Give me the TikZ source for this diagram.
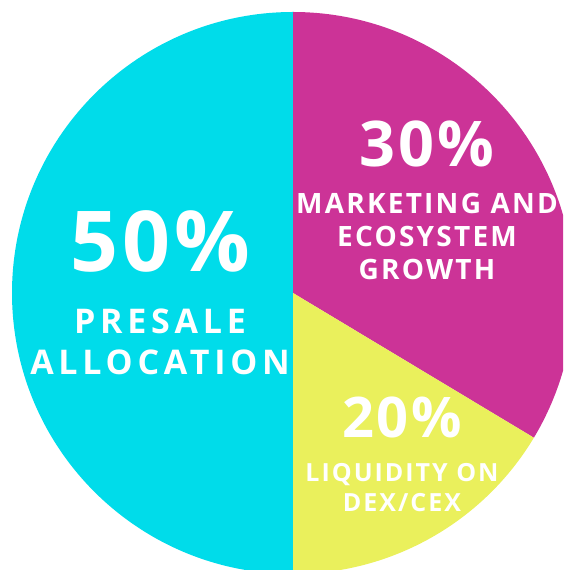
\documentclass[tikz,border=0pt]{standalone}
\usepackage{fontspec}
\usepackage{tikz}
\usetikzlibrary{positioning}
\newfontfamily\piefont{Open Sans}[LetterSpace=5]
\newfontfamily\capfont{Open Sans}[LetterSpace=8]
\newfontfamily\widecapfont{Open Sans}[LetterSpace=14]
\definecolor{presaleCyan}{HTML}{00DCEA}
\definecolor{marketingPink}{HTML}{CC3397}
\definecolor{liquidityYellow}{HTML}{EAF05C}
\tikzset{%
  % Specifications for style of slices and labels:
           slice/.style = {draw=none},
    presaleSlice/.style = {slice, fill=presaleCyan},
  marketingSlice/.style = {slice, fill=marketingPink},
  liquiditySlice/.style = {slice, fill=liquidityYellow},
            base/.style = {text=white, inner sep=0pt, align=center},
      percentBig/.style = {base, font=\piefont\bfseries\fontsize{84}{84}\selectfont},
      percentMid/.style = {base, font=\piefont\bfseries\fontsize{63}{63}\selectfont},
    percentSmall/.style = {base, font=\piefont\bfseries\fontsize{56}{56}\selectfont},
      captionBig/.style = {base, font=\widecapfont\bfseries\fontsize{34}{41}\selectfont},
      captionMid/.style = {base, font=\capfont\bfseries\fontsize{28}{33}\selectfont},
    captionSmall/.style = {base, font=\capfont\bfseries\fontsize{25}{30}\selectfont},
}
\begin{document}
\begin{tikzpicture}[x=1pt, y=1pt]
\useasboundingbox (0,0) rectangle (563,570);
\clip (0,0) rectangle (563,570);

\coordinate (Center) at (293,277);

\fill[presaleSlice]   (Center) -- ++(90:281) arc[start angle=90, end angle=270, radius=281] -- cycle;
\fill[marketingSlice] (Center) -- ++(90:281) arc[start angle=90, end angle=-31, radius=281] -- cycle;
\fill[liquiditySlice] (Center) -- ++(-31:281) arc[start angle=-31, end angle=-90, radius=281] -- cycle;

\node (Pct50)     [percentBig, anchor=base] at (160,298)   {50\%};
\node (Presale)   [captionBig, below=36pt of Pct50]        {PRESALE\\ALLOCATION};

\node (Pct30)     [percentMid, anchor=base] at (427,403)   {30\%};
\node (Marketing) [captionMid, below=25pt of Pct30]        {MARKETING AND\\ECOSYSTEM\\GROWTH};

\node (Pct20)     [percentSmall, anchor=base] at (402,132) {20\%};
\node (Liquidity) [captionSmall, below=24pt of Pct20]      {LIQUIDITY ON\\DEX/CEX};
\end{tikzpicture}
\end{document}
